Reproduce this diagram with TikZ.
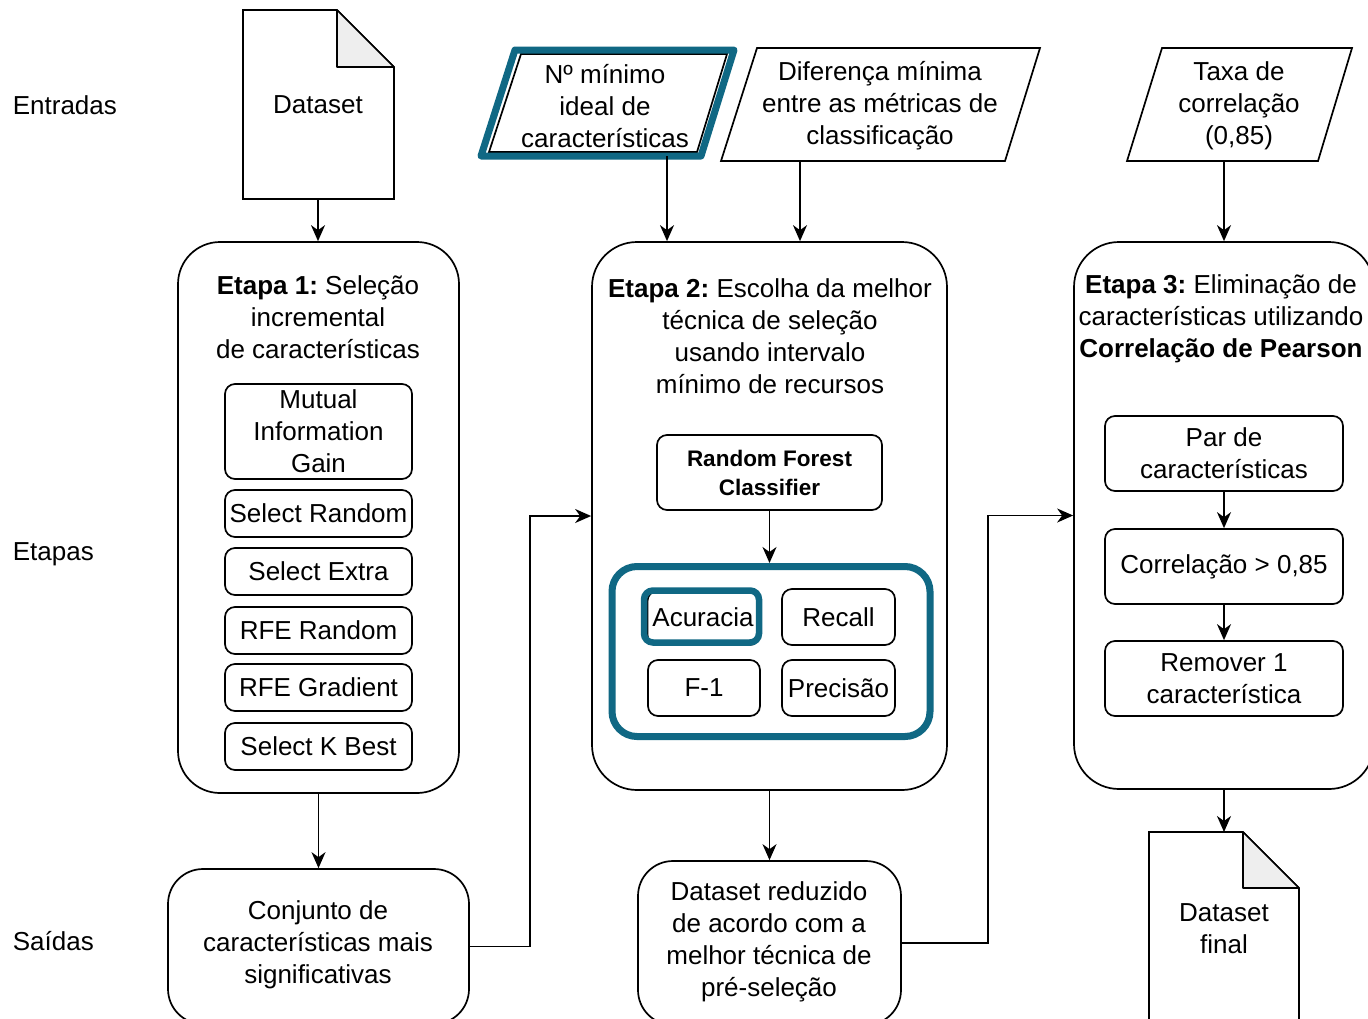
\documentclass[tikz,border=0pt]{standalone}
\usepackage{fontspec}
\setmainfont{Liberation Sans}
\usetikzlibrary{arrows.meta}
\definecolor{hl}{RGB}{16,104,132}
\definecolor{foldgray}{RGB}{238,238,238}
\frenchspacing
\begin{document}
\begin{tikzpicture}[x=1pt,y=-1pt,line width=1.7pt,
  txt/.style={font=\fontsize{26}{32}\selectfont, align=center, inner sep=1pt},
  lbl/.style={font=\fontsize{26}{32}\selectfont, anchor=west, inner sep=0pt},
  stage/.style={draw, rounded corners=42pt, inner sep=0pt},
  ibox/.style={draw, rounded corners=10pt, txt, inner sep=1pt},
  hlbox/.style={draw=hl, line width=6.5pt, rounded corners=9pt, inner sep=0pt},
  arr/.style={-{Stealth[length=16pt,width=14pt,inset=5pt]}},
]
\useasboundingbox (0,0) rectangle (1368,1018);
\clip (0,0) rectangle (1368,1018);
\fill[white] (0,0) rectangle (1368,1018);

% row labels
\node[lbl] (lin) at (12,105) {Entradas};
\node[lbl] (lst) at (12,554) {Etapas};
\node[lbl] (lout) at (12,941) {Saídas};

% Dataset document
\draw (243,10) -- (337,10) -- (394,67) -- (394,199) -- (243,199) -- cycle;
\draw[fill=foldgray, line join=round] (337,10) -- (337,67) -- (394,67) -- cycle;
\node[txt] (ds) at (318,105) {Dataset};
\coordinate (dsb) at (318,199);

% input parallelograms
\draw (521,54) -- (727,54) -- (697,152) -- (489,152) -- cycle;
\draw[hl, line width=7pt, line join=round] (515,50) -- (734,50) -- (701,156) -- (481,156) -- cycle;
\node[txt] (in1) at (605,106) {Nº mínimo\\ideal de\\características};
\coordinate (in1b) at (667,156);

\draw (757,48) -- (1040,48) -- (1005,161) -- (721,161) -- cycle;
\node[txt] (in2) at (880,106) {Diferença mínima\\entre as métricas de\\classificação};
\coordinate (in2b) at (800,161);

\draw (1162,48) -- (1352,48) -- (1318,161) -- (1127,161) -- cycle;
\node[txt] (in3) at (1239,106) {Taxa de\\correlação\\(0,85)};
\coordinate (in3b) at (1224,161);

% Stage 1
\node[stage, minimum width=281pt, minimum height=551pt] (e1) at (318.5,517.5) {};
\node[txt] (e1t) at (318,317) {\textbf{Etapa 1:} Seleção\\incremental\\de características};
\node[ibox, minimum width=187pt, minimum height=95pt] (mig) at (318.5,431.5) {Mutual\\Information\\Gain};
\node[ibox, minimum width=187pt, minimum height=47pt] (sr) at (318.5,513.5) {Select Random};
\node[ibox, minimum width=187pt, minimum height=47pt] (se) at (318.5,571.5) {Select Extra};
\node[ibox, minimum width=187pt, minimum height=47pt] (rfr) at (318.5,630.5) {RFE Random};
\node[ibox, minimum width=187pt, minimum height=47pt] (rfg) at (318.5,687.5) {RFE Gradient};
\node[ibox, minimum width=187pt, minimum height=47pt] (skb) at (318.5,746.5) {Select K Best};

% Stage 2
\node[stage, rounded corners=45pt, minimum width=355pt, minimum height=548pt] (e2) at (769.5,516) {};
\node[txt] (e2t) at (770,336) {\textbf{Etapa 2:} Escolha da melhor\\técnica de seleção\\usando intervalo\\mínimo de recursos};
\node[ibox, minimum width=225pt, minimum height=75pt, font=\fontsize{22.5}{29}\selectfont\bfseries] (rf) at (769.5,472.5) {Random Forest\\Classifier};
\node[draw=hl, line width=7pt, rounded corners=25pt, minimum width=318pt, minimum height=170pt, inner sep=0pt] (met) at (771,651.5) {};
\node[ibox, minimum width=112pt, minimum height=54pt] (accb) at (703.5,618) {};
\node[hlbox, minimum width=115pt, minimum height=52pt] (acch) at (701.5,616.5) {};
\node[txt] (acc) at (703,617) {Acuracia};
\node[ibox, minimum width=113pt, minimum height=56pt] (rec) at (838.5,617) {Recall};
\node[ibox, minimum width=112pt, minimum height=56pt] (f1) at (704,688) {F-1};
\node[ibox, minimum width=113pt, minimum height=56pt] (pre) at (838.5,688) {Precisão};

% Stage 3
\node[stage, rounded corners=45pt, minimum width=300pt, minimum height=547pt] (e3) at (1224,515.5) {};
\node[txt] (e3t) at (1221,319) {\textbf{Etapa 3:} Eliminação de\\características utilizando\\\textbf{Correlação de Pearson}};
\node[ibox, minimum width=238pt, minimum height=75pt] (par) at (1224,453.5) {Par de\\características};
\node[ibox, minimum width=238pt, minimum height=75pt] (corr) at (1224,566.5) {Correlação > 0,85};
\node[ibox, minimum width=238pt, minimum height=75pt] (rem) at (1224,678.5) {Remover 1\\característica};

% Outputs
\node[draw, rounded corners=35pt, minimum width=301pt, minimum height=155pt, inner sep=0pt] (s1) at (318.5,946.5) {};
\node[txt] (s1t) at (318,945) {Conjunto de\\características mais\\significativas};
\node[draw, rounded corners=35pt, minimum width=263pt, minimum height=164pt, inner sep=0pt] (s2) at (769.5,943) {};
\node[txt] (s2t) at (769,942) {Dataset reduzido\\de acordo com a\\melhor técnica de\\pré-seleção};

% Dataset final document
\draw (1149,832) -- (1243,832) -- (1299,888) -- (1299,1040) -- (1149,1040) -- cycle;
\draw[fill=foldgray, line join=round] (1243,832) -- (1243,888) -- (1299,888) -- cycle;
\node[txt] (dsf) at (1224,929) {Dataset\\final};
\coordinate (dsft) at (1224,832);

% connectors
\draw[arr] (dsb) -- (dsb |- e1.north);
\draw[arr] (in1b) -- (in1b |- e2.north);
\draw[arr] (in2b) -- (in2b |- e2.north);
\draw[arr] (in3b) -- (in3b |- e3.north);
\draw[arr] (e1.south) -- (s1.north);
\draw[arr] (s1.east) -| (530,700) |- (e2.west);
\draw[arr] (rf.south) -- (rf.south |- met.north);
\draw[arr] (e2.south) -- (s2.north);
\draw[arr] (s2.east) -| (988,700) |- (e3.west);
\draw[arr] (par.south) -- (corr.north);
\draw[arr] (corr.south) -- (rem.north);
\draw[arr] (e3.south) -- (dsft);
\end{tikzpicture}
\end{document}
